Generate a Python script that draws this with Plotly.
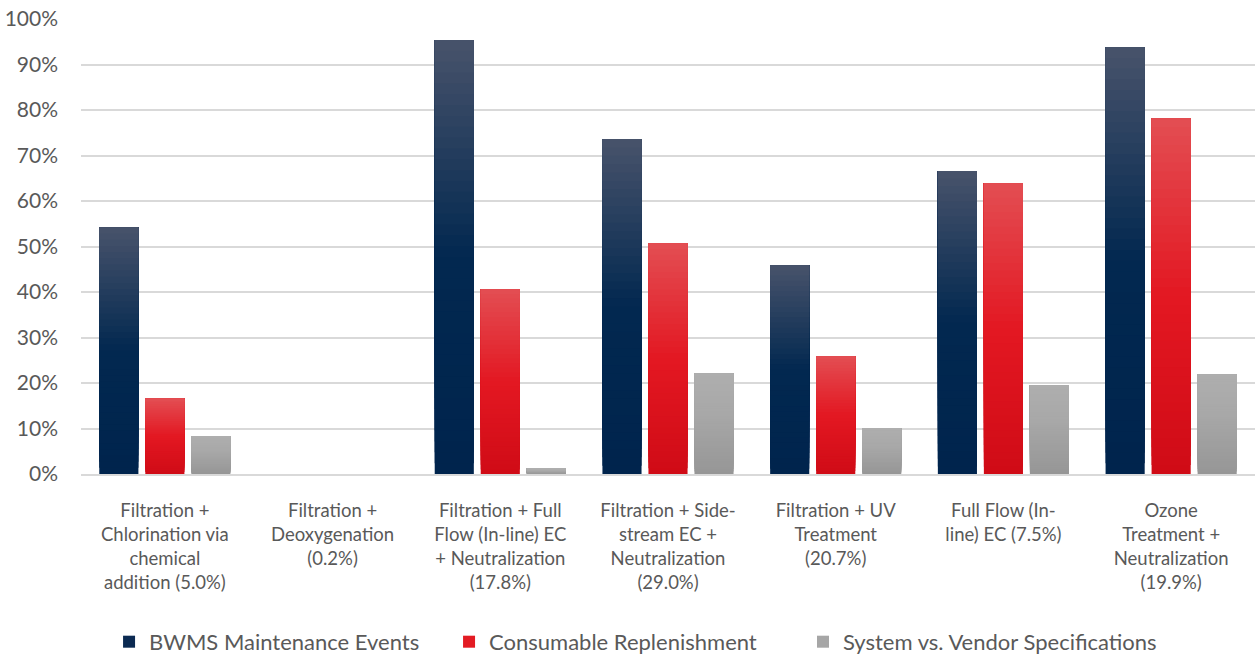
import plotly.graph_objects as go

categories = [
    "Filtration +<br>Chlorination via<br>chemical<br>addition (5.0%)",
    "Filtration +<br>Deoxygenation<br>(0.2%)",
    "Filtration + Full<br>Flow (In-line) EC<br>+ Neutralization<br>(17.8%)",
    "Filtration + Side-<br>stream EC +<br>Neutralization<br>(29.0%)",
    "Filtration + UV<br>Treatment<br>(20.7%)",
    "Full Flow (In-<br>line) EC (7.5%)",
    "Ozone<br>Treatment +<br>Neutralization<br>(19.9%)",
]
maintenance = [0.542, 0.0, 0.954, 0.736, 0.459, 0.666, 0.938]
consumable = [0.166, 0.0, 0.406, 0.507, 0.259, 0.639, 0.782]
vendor = [0.083, 0.0, 0.012, 0.221, 0.100, 0.195, 0.219]

series_names = ["BWMS Maintenance Events", "Consumable Replenishment", "System vs. Vendor Specifications"]
series_values = [maintenance, consumable, vendor]
# gradient stops: (fraction from bottom, rgb)
series_stops = [
    [(0.0, (0, 36, 77)), (0.5, (2, 40, 80)), (1.0, (72, 83, 107))],
    [(0.0, (208, 11, 22)), (0.5, (227, 24, 34)), (1.0, (227, 78, 83))],
    [(0.0, (150, 150, 150)), (0.6, (168, 168, 168)), (1.0, (174, 174, 174))],
]
legend_colors = ["#0b2a52", "#e31b23", "#a6a6a6"]
legend_ids = ["legend", "legend2", "legend3"]
legend_x = [0.0239, 0.3135, 0.615]

N = 40


def interp(stops, t):
    for (t0, c0), (t1, c1) in zip(stops[:-1], stops[1:]):
        if t0 <= t <= t1:
            f = (t - t0) / (t1 - t0) if t1 > t0 else 0
            c = [round(a + (b - a) * f) for a, b in zip(c0, c1)]
            return "rgb(%d,%d,%d)" % tuple(c)
    return "rgb(%d,%d,%d)" % stops[-1][1]


fig = go.Figure()
for s, (name, vals, stops) in enumerate(zip(series_names, series_values, series_stops)):
    for k in range(N):
        t = (k + 0.5) / N
        # each layer runs from its own start up to the full value; later layers cover earlier ones
        fig.add_trace(go.Bar(
            x=categories,
            y=[v * (N - k) / N for v in vals],
            base=[v * k / N for v in vals],
            offsetgroup=str(s),
            marker=dict(color=interp(stops, t), line=dict(width=0)),
            name=name,
            legendgroup=name,
            showlegend=False,
            hoverinfo="skip",
        ))
    # legend entry
    fig.add_trace(go.Bar(
        x=categories,
        y=[0] * len(categories),
        offsetgroup=str(s),
        marker=dict(color=legend_colors[s], line=dict(width=0)),
        name=name,
        legendgroup=name,
        legend=legend_ids[s],
        showlegend=True,
    ))

legend_common = dict(
    orientation="h",
    xanchor="left",
    y=-0.369,
    yanchor="middle",
    font=dict(size=22, color="#595959"),
    bgcolor="rgba(0,0,0,0)",
)
fig.update_layout(
    width=1257,
    height=657,
    barmode="group",
    bargap=0.177,
    bargroupgap=0.15,
    plot_bgcolor="white",
    paper_bgcolor="white",
    margin=dict(l=81, r=2, t=19, b=183, autoexpand=False),
    font=dict(family="Lato, 'Liberation Sans', sans-serif", size=19, color="#595959"),
    legend=dict(x=legend_x[0], **legend_common),
    legend2=dict(x=legend_x[1], **legend_common),
    legend3=dict(x=legend_x[2], **legend_common),
    showlegend=True,
)
fig.update_yaxes(
    range=[0, 1.0],
    dtick=0.1,
    tickformat=".0%",
    showgrid=True,
    gridcolor="#d9d9d9",
    gridwidth=1.5,
    zeroline=False,
    showline=False,
    ticks="",
    ticklabelstandoff=22,
    tickfont=dict(size=21, color="#595959"),
)
fig.update_xaxes(
    showline=True,
    linecolor="#d9d9d9",
    linewidth=1.5,
    ticks="",
    tickangle=0,
    ticklabelstandoff=19,
    tickfont=dict(size=18.5, color="#595959"),
)

fig.write_html(
    "out.html",
    config={"displayModeBar": False},
    post_script="document.body.style.margin='0';document.body.style.overflow='hidden';",
)
